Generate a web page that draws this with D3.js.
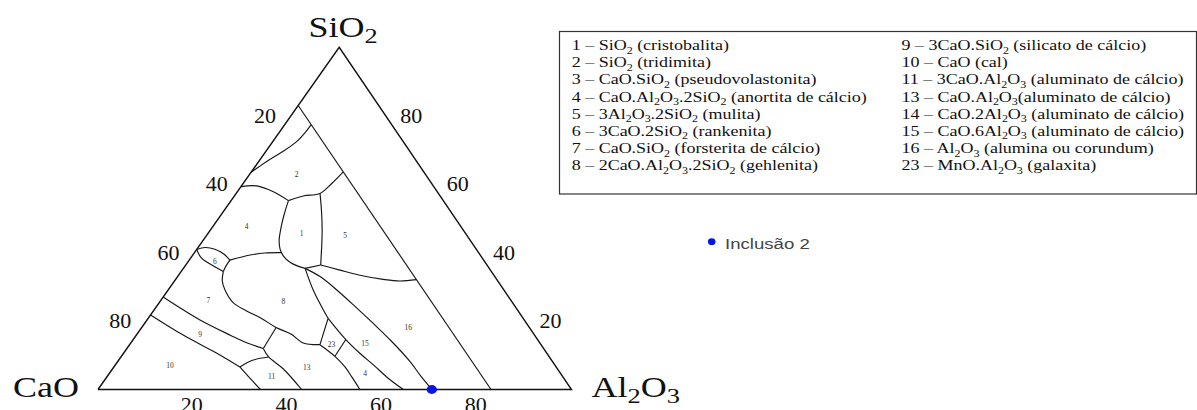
<!DOCTYPE html>
<html>
<head>
<meta charset="utf-8">
<script src="https://cdn.jsdelivr.net/npm/d3@7"></script>
<style>
  html, body { margin: 0; padding: 0; background: #fff; }
  svg { display: block; }
  text { white-space: pre; }
</style>
</head>
<body>
<svg id="chart" width="1197" height="410"></svg>
<script>
// Ternary diagram CaO – Al2O3 – SiO2. Every composition is [CaO, Al2O3, SiO2] in %.

const corners = [[100, 0, 0], [0, 100, 0], [0, 0, 100]];

const cornerNames = ["CaO", "Al2O3", "SiO2"];

const edgeTicks = [20, 40, 60, 80];

// Phase-field boundaries, each a polyline of compositions.
const bndCaO17 = [[17, 0, 83], [17, 83, 0]];
const bnd1_2 = [[36.5, 0, 63.5], [31.9, 1.6, 66.5], [27.1, 3.5, 69.4], [22.7, 5.0, 72.3], [19.5, 5.5, 75.0], [17, 5.6, 77.4]];
const bnd2_3 = [[40.7, 0, 59.3], [37.3, 3.2, 59.5], [34.6, 7.6, 57.8], [32.7, 12.1, 55.2]];
const bnd1Top = [[32.7, 12.1, 55.2], [28.9, 14.55, 56.55], [25.0, 17.7, 57.3], [21.1, 18.7, 60.2], [17, 19.4, 63.6]];
const bnd1Left = [[32.7, 12.1, 55.2], [35.7, 13.3, 51.0], [38.2, 14.6, 47.2], [40.3, 16.0, 43.7], [41.4, 17.5, 41.1], [41.7, 19.3, 39.0], [41.2, 21.6, 37.2], [40.1, 23.85, 36.05], [38.9, 25.7, 35.4]];
const bnd1Right = [[25.0, 17.7, 57.3], [27.1, 20.5, 52.4], [29.8, 23.6, 46.6], [32.3, 26.0, 41.7], [34.0, 27.5, 38.5], [35.1, 28.5, 36.4]];
const bnd1Bottom = [[38.9, 25.7, 35.4], [35.1, 28.5, 36.4]];
const bnd5_16 = [[35.1, 28.5, 36.4], [31.8, 33.3, 34.9], [28.3, 38.3, 33.4], [24.0, 43.8, 32.2], [20.7, 47.6, 31.7], [17, 50.9, 32.1]];
const bnd3_8 = [[53.6, 8.6, 37.8], [48.6, 12.1, 39.3], [45.2, 14.9, 39.9], [41.7, 18.3, 40.0]];
const bnd6Top = [[59.1, 0, 40.9], [57.0, 1.5, 41.5], [55.2, 3.8, 41.0], [54.0, 6.4, 39.6], [53.6, 8.6, 37.8]];
const bnd6Bottom = [[59.1, 0, 40.9], [59.3, 2.4, 38.3], [58.1, 5.5, 36.4], [56.6, 8.9, 34.5]];
const bnd6Right = [[53.6, 8.6, 37.8], [55.3, 8.65, 36.05], [56.6, 8.9, 34.5]];
const bnd8Outer = [[56.6, 8.9, 34.5], [58.2, 10.1, 31.7], [58.9, 12.0, 29.1], [59.0, 15.6, 25.4], [57.3, 19.8, 22.9], [55.2, 24.1, 20.7], [53.5, 28.4, 18.1], [51.3, 32.5, 16.2], [50.0, 36.4, 13.6], [46.7, 40.2, 13.1]];
const bnd8_15 = [[38.9, 25.7, 35.4], [40.3, 30.7, 29.0], [40.9, 34.9, 24.2], [41.2, 38.0, 20.8]];
const bnd23Left = [[46.7, 40.2, 13.1], [41.2, 38.0, 20.8]];
const bnd15_14 = [[41.2, 38.0, 20.8], [40.5, 44.9, 14.6], [39.5, 49.9, 10.6], [38.3, 54.5, 7.2], [37.1, 59.6, 3.3], [35.5, 64.5, 0]];
const bnd23Right = [[40.5, 44.9, 14.6], [45.2, 45.1, 9.7]];
const bnd13_14 = [[46.7, 40.2, 13.1], [45.2, 45.1, 9.7], [44.6, 48.8, 6.6], [44.6, 51.8, 3.6], [44.7, 55.3, 0]];
const bnd15_16 = [[38.9, 25.7, 35.4], [36.9, 30.1, 33.0], [35.2, 36.0, 28.8], [33.8, 41.9, 24.3], [32.4, 48.3, 19.3], [31.1, 54.8, 14.1], [30.1, 61.7, 8.2], [29.9, 66.2, 3.9], [29.5, 70.5, 0]];
const bnd7_9 = [[73, 0, 27], [68.5, 11.2, 20.3], [64.2, 20.0, 15.8], [61.7, 24.8, 13.5], [59.2, 28.8, 12.0]];
const bnd9_10 = [[78.2, 0, 21.8], [74.2, 9.9, 15.9], [69.7, 19.7, 10.6], [66.8, 26.6, 6.6]];
const bnd10_11 = [[66.8, 26.6, 6.6], [66.3, 30.4, 3.3], [65.7, 34.3, 0]];
const bnd11Top = [[66.8, 26.6, 6.6], [63.0, 28.4, 8.6], [59.3, 31.2, 9.5]];
const bnd11_13 = [[59.2, 28.8, 12.0], [59.3, 31.2, 9.5], [57.9, 36.1, 6.0], [57.0, 43.0, 0]];
const bnd8_13 = [[59.2, 28.8, 12.0], [53.5, 28.4, 18.1]];

const boundaries = [
  bndCaO17, bnd1_2, bnd2_3, bnd1Top, bnd1Left, bnd1Right, bnd1Bottom, bnd5_16,
  bnd3_8, bnd6Top, bnd6Bottom, bnd6Right, bnd8Outer, bnd8_15, bnd23Left, bnd15_14,
  bnd23Right, bnd13_14, bnd15_16, bnd7_9, bnd9_10, bnd10_11, bnd11Top, bnd11_13, bnd8_13
];

// Field numbers and the composition where each is written.
const fieldNames = ["2", "4", "1", "5", "6", "7", "8", "9", "10", "11", "13", "23", "15", "4", "16"];
const fieldAt = [
  [27.3, 10.0, 62.7], [45.2, 7.1, 47.7], [34.6, 19.8, 45.6], [25.8, 29.3, 44.9],
  [57.0, 5.7, 37.3], [63.9, 10.0, 26.1], [48.2, 26.0, 25.8], [70.6, 13.4, 16.0],
  [81.4, 11.7, 6.9], [61.5, 34.8, 3.7], [52.7, 40.8, 6.5], [44.2, 42.6, 13.2],
  [37.0, 49.5, 13.5], [41.3, 54.0, 4.7], [25.6, 56.3, 18.1]
];

// Analysed inclusion
const inclusionName = "Inclusão 2";
const inclusionComp = [29.5, 70.5, 0];

// Key to the numbered fields
const legendLeft = [
  "1 – SiO2 (cristobalita)",
  "2 – SiO2 (tridimita)",
  "3 – CaO.SiO2 (pseudovolastonita)",
  "4 – CaO.Al2O3.2SiO2 (anortita de cálcio)",
  "5 – 3Al2O3.2SiO2 (mulita)",
  "6 – 3CaO.2SiO2 (rankenita)",
  "7 – CaO.SiO2 (forsterita de cálcio)",
  "8 – 2CaO.Al2O3.2SiO2 (gehlenita)"
];
const legendRight = [
  "9 – 3CaO.SiO2 (silicato de cálcio)",
  "10 – CaO (cal)",
  "11 – 3CaO.Al2O3 (aluminato de cálcio)",
  "13 – CaO.Al2O3(aluminato de cálcio)",
  "14 – CaO.2Al2O3 (aluminato de cálcio)",
  "15 – CaO.6Al2O3 (aluminato de cálcio)",
  "16 – Al2O3 (alumina ou corundum)",
  "23 – MnO.Al2O3 (galaxita)"
];

// ---- layout ----
const baseY = 389.5, apexY = 47.3, leftX = 98, rightX = 571.5, apexX = 339.2;
const yS = d3.scaleLinear().domain([0, 100]).range([baseY, apexY]);          // SiO2 height
const xA = d3.scaleLinear().domain([0, 100]).range([0, rightX - leftX]);      // Al2O3 along the base
const xS = d3.scaleLinear().domain([0, 100]).range([0, apexX - leftX]);       // shift toward apex with SiO2

function proj(comp) {
  const t = comp[0] + comp[1] + comp[2];
  const a = comp[1] * 100 / t, s = comp[2] * 100 / t;
  return [leftX + xA(a) + xS(s), yS(s)];
}

const svg = d3.select("#chart");
svg.append("rect").attr("width", 1197).attr("height", 410).attr("fill", "#fff");

const serif = "'Liberation Serif', 'Times New Roman', serif";
const sans = "'Liberation Sans', Arial, sans-serif";

// chemical formula -> runs of normal text and subscripts (digit right after a letter)
function chemRuns(str) {
  const runs = [];
  for (let i = 0; i < str.length; i++) {
    const ch = str[i];
    const sub = /\d/.test(ch) && i > 0 && /[A-Za-z]/.test(str[i - 1]);
    const last = runs[runs.length - 1];
    if (last && last.sub === sub) last.t += ch; else runs.push({ t: ch, sub });
  }
  return runs;
}
function fillChem(textSel, str, subSize, shift) {
  let down = false;
  chemRuns(str).forEach(r => {
    const ts = textSel.append("tspan").text(r.t);
    if (r.sub) {
      ts.attr("font-size", subSize);
      if (!down) ts.attr("dy", shift);
      down = true;
    } else if (down) {
      ts.attr("dy", -shift);
      down = false;
    }
  });
}
function stretched(parent, x, y, sx, anchor) {
  return parent.append("text")
    .attr("transform", `translate(${x},${y}) scale(${sx},1)`)
    .attr("text-anchor", anchor);
}

const plot = svg.append("g");

// triangle frame
const straight = d3.line().x(d => proj(d)[0]).y(d => proj(d)[1]);
plot.append("path")
  .datum([...corners, corners[0]])
  .attr("d", straight)
  .attr("fill", "none").attr("stroke", "#111").attr("stroke-width", 1.4)
  .attr("stroke-linejoin", "miter");

// phase boundaries
const smooth = d3.line().x(d => proj(d)[0]).y(d => proj(d)[1]).curve(d3.curveCatmullRom.alpha(0.5));
plot.selectAll("path.bnd").data(boundaries).join("path")
  .attr("class", "bnd")
  .attr("d", smooth)
  .attr("fill", "none").attr("stroke", "#161616").attr("stroke-width", 1.15)
  .attr("stroke-linejoin", "round");

// field numbers
plot.selectAll("text.field").data(fieldNames).join("text")
  .attr("class", "field")
  .attr("x", (d, i) => proj(fieldAt[i])[0])
  .attr("y", (d, i) => proj(fieldAt[i])[1] + 2.5)
  .attr("text-anchor", "middle")
  .attr("font-family", serif).attr("font-size", 7.5).attr("fill", "#333")
  .text(d => d);

// edge scales: CaO on the left edge, SiO2 on the right edge, Al2O3 on the base
edgeTicks.forEach(v => {
  const pL = proj([v, 0, 100 - v]);
  stretched(plot, pL[0] - 26, pL[1] + 7, 1.1, "middle")
    .attr("font-family", serif).attr("font-size", 20).attr("fill", "#111").text(v);
  const pR = proj([0, 100 - v, v]);
  stretched(plot, pR[0] + 25.5, pR[1] + 7, 1.1, "middle")
    .attr("font-family", serif).attr("font-size", 20).attr("fill", "#111").text(v);
  const pB = proj([100 - v, v, 0]);
  stretched(plot, pB[0] - 1, pB[1] + 22, 1.1, "middle")
    .attr("font-family", serif).attr("font-size", 20).attr("fill", "#111").text(v);
});

// corner names
const cornerPlace = [
  { dx: -19, dy: 7.5, anchor: "end" },
  { dx: 20, dy: 7.5, anchor: "start" },
  { dx: 4, dy: -10.6, anchor: "middle" }
];
cornerNames.forEach((name, i) => {
  const p = proj(corners[i]);
  const c = cornerPlace[i];
  const t = stretched(plot, p[0] + c.dx, p[1] + c.dy, 1.2, c.anchor)
    .attr("font-family", serif).attr("font-size", 30).attr("fill", "#111");
  fillChem(t, name, 22, 6);
});

// inclusion point
const pInc = proj(inclusionComp);
plot.append("ellipse")
  .attr("cx", pInc[0]).attr("cy", pInc[1]).attr("rx", 5.2).attr("ry", 4.4)
  .attr("fill", "#0a14e6");

// point key
const incKey = svg.append("g");
incKey.append("ellipse").attr("cx", 711.7).attr("cy", 241.7).attr("rx", 3.8).attr("ry", 3.4).attr("fill", "#0a14e6");
stretched(incKey, 725, 249, 1.2, "start")
  .attr("font-family", sans).attr("font-size", 15.5).attr("fill", "#444")
  .text(inclusionName);

// field key box
const key = svg.append("g");
key.append("rect")
  .attr("x", 559.5).attr("y", 31.5).attr("width", 637).attr("height", 162.5)
  .attr("fill", "#fff").attr("stroke", "#333").attr("stroke-width", 1.2);
const rowY = d3.scaleLinear().domain([0, 7]).range([50.2, 170.2]);
[[legendLeft, 571.7], [legendRight, 901.5]].forEach(([rows, x0]) => {
  rows.forEach((row, i) => {
    const t = stretched(key, x0, rowY(i), 1.2, "start")
      .attr("font-family", serif).attr("font-size", 15).attr("fill", "#111");
    fillChem(t, row, 10, 3.5);
  });
});
</script>
</body>
</html>
